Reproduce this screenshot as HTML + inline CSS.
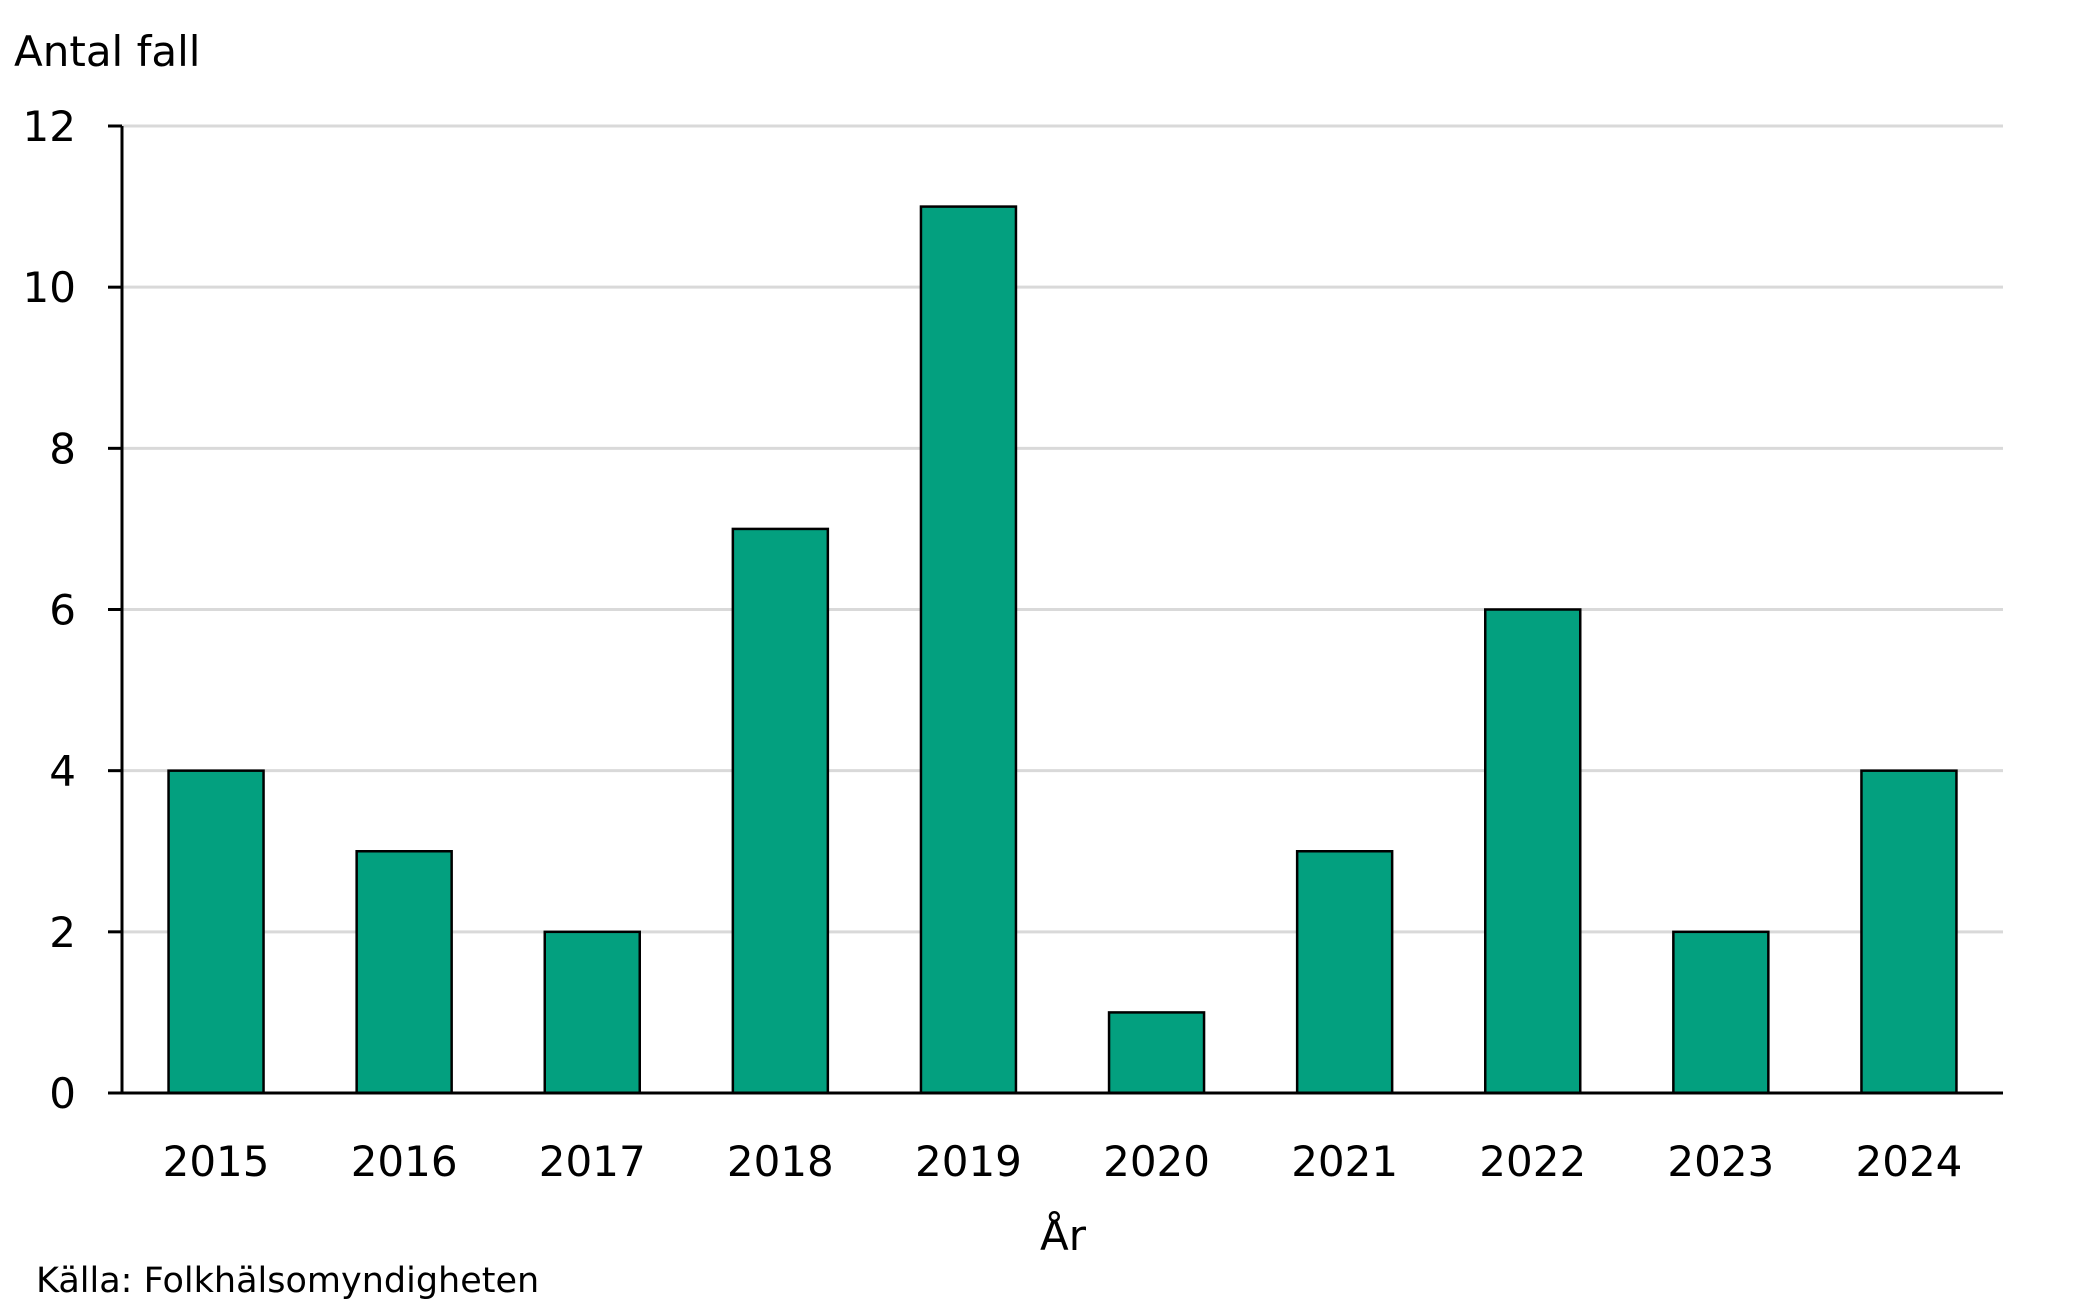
<!DOCTYPE html>
<html><head><meta charset="utf-8"><style>
html,body{margin:0;padding:0;background:#fff;}
svg{display:block;font-family:"DejaVu Sans","Liberation Sans",sans-serif;}
</style></head><body>
<svg id="chart" width="2079" height="1300" viewBox="0 0 2079 1300">
<text x="14" y="66" font-size="42">Antal fall</text>
<text x="1063" y="1250" font-size="42" text-anchor="middle">År</text>
<text x="36" y="1292" font-size="35">Källa: Folkhälsomyndigheten</text>
<g id="grid"></g><g id="bars"></g><g id="axes"></g>
</svg>
<script>
const categories = ["2015","2016","2017","2018","2019","2020","2021","2022","2023","2024"];
const values = [4,3,2,7,11,1,3,6,2,4];
const yTicks = [0,2,4,6,8,10,12];
const NS="http://www.w3.org/2000/svg";
const x0=122,x1=2003,y0=1093,yTop=126,yMax=12;
const bw=(x1-x0)/categories.length;
function yS(v){return y0-(v/yMax)*(y0-yTop);}
function xS(i){return x0+bw*(i+0.5);}
function mk(tag,attrs,parent){const e=document.createElementNS(NS,tag);for(const k in attrs)e.setAttribute(k,attrs[k]);parent.appendChild(e);return e;}
const grid=document.getElementById('grid'),bars=document.getElementById('bars'),axes=document.getElementById('axes');
yTicks.forEach(t=>{
  const y=yS(t);
  if(t>0){const g=mk('line',{x1:x0,x2:x1,y1:y,y2:y,stroke:'#d9d9d9','stroke-width':3},grid);
  
  }
  const tk=mk('line',{x1:x0-14,x2:x0,y1:y,y2:y,stroke:'#000','stroke-width':3},axes);
  
  
  const lb=mk('text',{x:76,y:y+15,'font-size':42,'text-anchor':'end'},axes);
  lb.textContent=t;
  
  
});
categories.forEach((c,i)=>{
  const w=95,cx=xS(i),top=yS(values[i]);
  const r=mk('rect',{x:cx-w/2,y:top,width:w,height:y0-top,fill:'#03a07f',stroke:'#000','stroke-width':2.5},bars);
  
  
  const lb=mk('text',{x:cx,y:1176,'font-size':42,'text-anchor':'middle'},axes);
  lb.textContent=c;
  
  
});
const ya=mk('line',{x1:x0,x2:x0,y1:yTop,y2:y0+1.5,stroke:'#000','stroke-width':3},axes);


const xa=mk('line',{x1:x0-1.5,x2:x1,y1:y0,y2:y0,stroke:'#000','stroke-width':3},axes);


</script>
</body></html>
